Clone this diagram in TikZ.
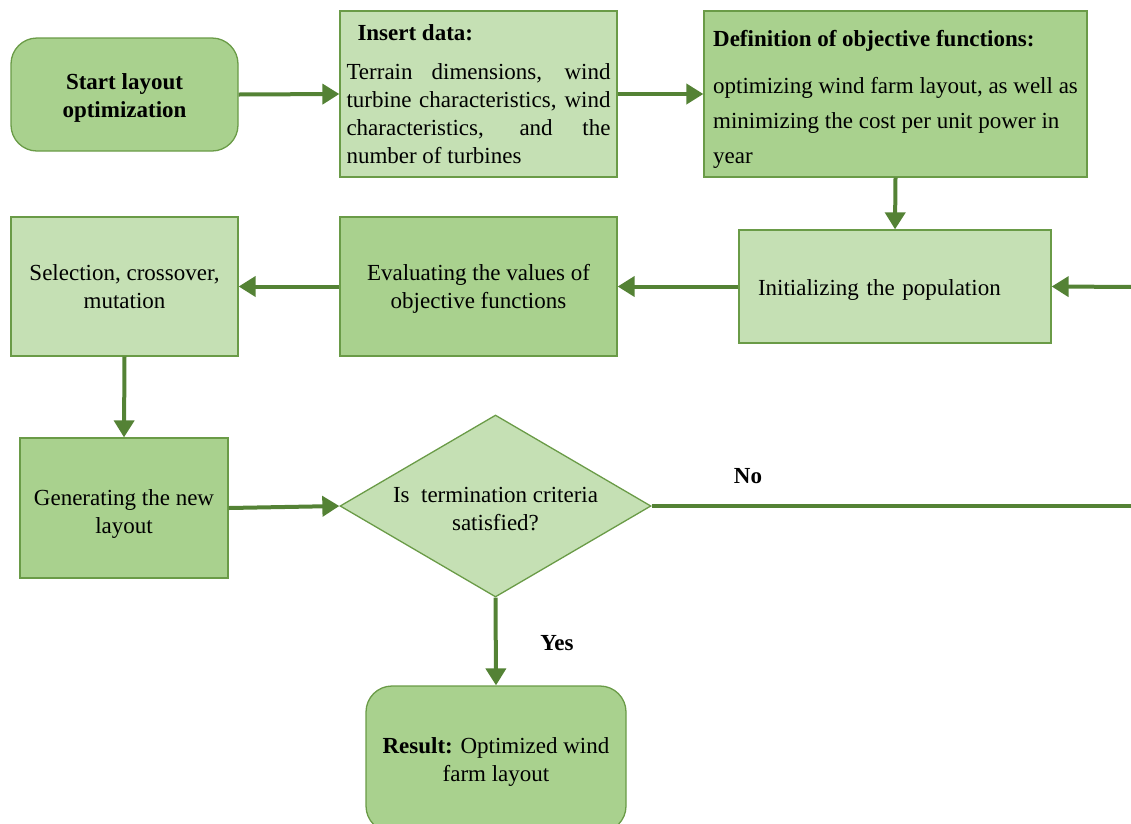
\documentclass[tikz,border=0pt]{standalone}
\usepackage{fontspec}
\setmainfont{Liberation Serif}
\usepackage{tikz}
\usetikzlibrary{shapes.geometric, arrows.meta}

\definecolor{darkfill}{HTML}{A9D18E}
\definecolor{lightfill}{HTML}{C5E0B4}
\definecolor{edgegreen}{HTML}{6A9B47}
\definecolor{arrowgreen}{HTML}{548235}

\newcommand{\topstrut}[1]{\rule{0pt}{#1}}

\tikzset{
    box/.style={draw=edgegreen, line width=1.3pt, inner sep=0pt, font=\fontsize{23}{28}\selectfont},
    darkbox/.style={box, fill=darkfill},
    lightbox/.style={box, fill=lightfill},
    flow/.style={draw=arrowgreen, line width=4pt, -{Triangle[length=17pt, width=20pt]}},
    plainflow/.style={draw=arrowgreen, line width=4pt},
    answer/.style={font=\fontsize{23}{28}\selectfont\bfseries}
}

\begin{document}
\begin{tikzpicture}[x=1pt, y=-1pt]
    \useasboundingbox (0,0) rectangle (1131,823);
    \clip (0,0) rectangle (1131,823);

    \node[darkbox, rounded corners=26pt, minimum width=227pt, minimum height=113pt, align=center]
        (start) at (124.5,94.5) {\topstrut{23pt}\textbf{Start layout}\\\textbf{optimization}};
    \node[lightbox, minimum width=277pt, minimum height=166pt, text width=264pt, align=justify]
        (insert) at (478.5,94) {\hyphenpenalty=10000\hspace*{11pt}\textbf{Insert data:}\par\vspace{11pt}Terrain dimensions, wind\linebreak turbine characteristics, wind\linebreak characteristics, and the\linebreak number of turbines};
    \node[darkbox, minimum width=383pt, minimum height=166pt, align=left, font=\fontsize{23}{35}\selectfont]
        (objdef) at (895.5,94) {\topstrut{27pt}\textbf{Definition of objective functions:}\\[12pt]optimizing wind farm layout, as well as\\minimizing the cost per unit power in\\year};

    \node[lightbox, minimum width=312pt, minimum height=113pt, text width=274pt, align=left]
        (initpop) at (895,286.5) {\topstrut{22pt}Initializing the population};
    \node[darkbox, minimum width=277pt, minimum height=139pt, align=center]
        (evalobj) at (478.5,286.5) {\topstrut{21pt}Evaluating the values of\\objective functions};
    \node[lightbox, minimum width=227pt, minimum height=139pt, align=center]
        (selcross) at (124.5,286.5) {Selection, crossover,\\mutation};

    \node[darkbox, minimum width=208pt, minimum height=140pt, align=center]
        (genlayout) at (124,508) {\topstrut{27pt}Generating the new\\layout};
    \node[lightbox, diamond, minimum width=311pt, minimum height=182pt]
        (termcheck) at (495.5,506) {};
    \node[font=\fontsize{23}{28}\selectfont, align=center]
        (termtext) at (495.5,506) {\topstrut{21pt}Is\ \ termination criteria\\satisfied?};
    \node[darkbox, rounded corners=26pt, minimum width=260pt, minimum height=146pt, align=center]
        (result) at (496,759) {\topstrut{21pt}\textbf{Result:} Optimized wind\\farm layout};

    \node[answer] (lblno) at (748,476) {No};
    \node[answer] (lblyes) at (557,643) {Yes};

    \coordinate (noend) at (1140,506);
    \coordinate (popin) at (1140,287);

    \draw[flow] (start.east) -- (insert.west);
    \draw[flow] (insert.east) -- (objdef.west);
    \draw[flow] (objdef.south) -- (initpop.north);
    \draw[flow] (initpop.west) -- (evalobj.east);
    \draw[flow] (evalobj.west) -- (selcross.east);
    \draw[flow] (selcross.south) -- (genlayout.north);
    \draw[flow] (genlayout.east) -- (termcheck.west);
    \draw[flow] (termcheck.south) -- (result.north);
    \draw[plainflow] (termcheck.east) -- (noend);
    \draw[flow] (popin) -- (initpop.east);
\end{tikzpicture}
\end{document}
